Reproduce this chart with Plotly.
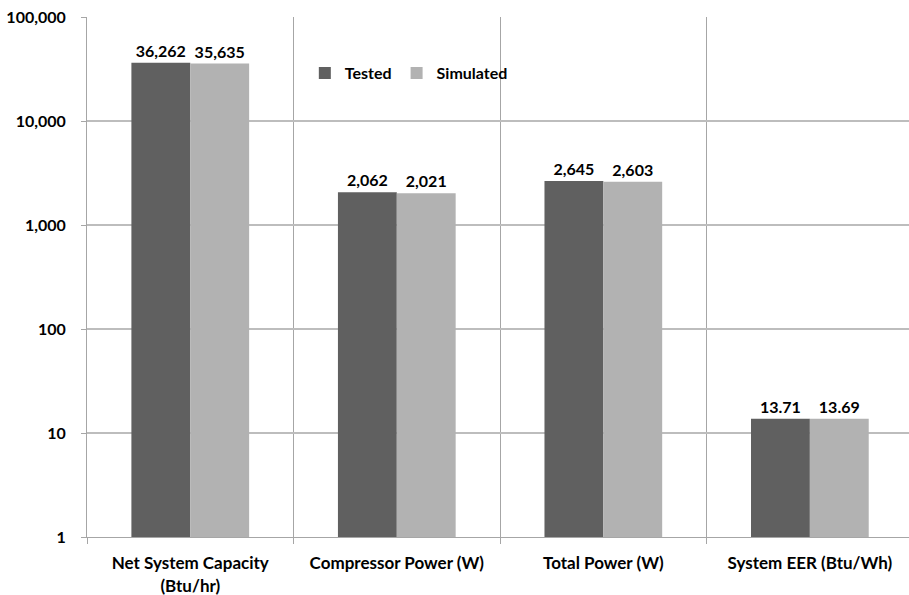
import plotly.graph_objects as go

categories = ["Net System Capacity<br>(Btu/hr)", "Compressor Power (W)", "Total Power (W)", "System EER (Btu/Wh)"]
tested = [36262, 2062, 2645, 13.71]
simulated = [35635, 2021, 2603, 13.69]
tick_vals = [1, 10, 100, 1000, 10000, 100000]
tick_text = ["1", "10", "100", "1,000", "10,000", "100,000"]


def fmt(v):
    return f"{v:,.0f}" if v >= 100 else f"{v:.2f}"


FONT = "Lato"
bold = dict(family=FONT, size=16, color="black", weight="bold")
xfont = dict(family=FONT, size=17, color="black", weight="bold")
yfont = dict(family=FONT, size=16, color="black", weight="bold")

fig = go.Figure()
fig.add_trace(go.Bar(name="Tested", x=categories, y=tested, marker_color="#606060",
                     marker_line_width=0, text=[fmt(v) for v in tested], textposition="outside",
                     textfont=bold, cliponaxis=False))
fig.add_trace(go.Bar(name="Simulated", x=categories, y=simulated, marker_color="#b2b2b2",
                     marker_line_width=0, text=[fmt(v) for v in simulated], textposition="outside",
                     textfont=bold, cliponaxis=False))

fig.update_layout(
    width=909, height=595,
    margin=dict(l=87, r=0, t=17, b=58),
    paper_bgcolor="white", plot_bgcolor="white",
    barmode="group", bargap=0.43, bargroupgap=0,
    font=bold,
    showlegend=True,
    legend=dict(orientation="h", x=0.265, y=0.892, xanchor="left", yanchor="middle",
                font=dict(family=FONT, size=16, color="black", weight="bold"),
                bgcolor="rgba(0,0,0,0)", itemwidth=30, tracegroupgap=0),
    xaxis=dict(type="category", range=[-0.5, 3.48], tickson="boundaries",
               showgrid=True, gridcolor="#a6a6a6", gridwidth=1,
               ticks="outside", ticklen=6, tickcolor="#a6a6a6",
               showline=True, linecolor="#a6a6a6", linewidth=1,
               tickfont=xfont, ticklabelstandoff=11, automargin=False,
               ticklabeloverflow="allow"),
    yaxis=dict(type="log", range=[0, 5], tickvals=tick_vals, ticktext=tick_text,
               showgrid=True, gridcolor="#bdbdbd", gridwidth=2,
               ticks="outside", ticklen=5, tickcolor="#a6a6a6",
               showline=True, linecolor="#a6a6a6", linewidth=1,
               tickfont=yfont, ticklabelstandoff=12, zeroline=False, automargin=False,
               ticklabeloverflow="allow"),
)

# remove the default 8px page margin so the figure sits at the window's corner
fig.write_html("out.html", config={"displayModeBar": False},
               post_script="document.body.style.margin='0';")
